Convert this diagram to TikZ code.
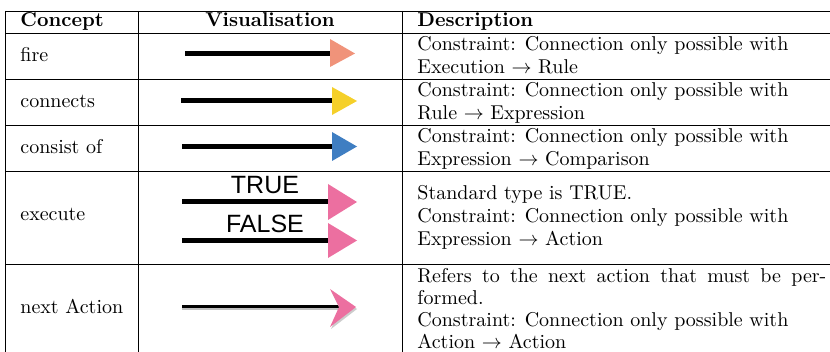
\documentclass[tikz,border=0pt]{standalone}
\usepackage{fontspec}
\newfontfamily\arialfont{Liberation Sans}
\definecolor{firecol}{HTML}{F0937A}
\definecolor{conncol}{HTML}{F5D02A}
\definecolor{conscol}{HTML}{3F7EC2}
\definecolor{execcol}{HTML}{EC6FA0}
\begin{document}
\begin{tikzpicture}[x=0.5pt,y=-0.5pt,
  txt/.style={anchor=base west,inner sep=0pt,font=\fontsize{10}{12}\selectfont},
  hdr/.style={anchor=base,inner sep=0pt,font=\fontsize{10}{12}\selectfont\bfseries},
  lbl/.style={anchor=center,inner sep=0pt,font=\arialfont\fontsize{12.5}{14}\selectfont},
  rule/.style={line width=0.4pt,black},
  shaft/.style={line width=2.5pt,black},
  thinshaft/.style={line width=1.5pt,black},
  shadow/.style={line width=1.5pt,black!25}]
\useasboundingbox (0,0) rectangle (830,352);
% table rules
\foreach \yy in {11,33,79,125,171,264} \draw[rule] (5,\yy) -- (830,\yy);
\foreach \xx in {5,138,402} \draw[rule] (\xx,11) -- (\xx,352);
% header
\node[hdr,anchor=base west] (hc) at (20,27) {Concept};
\node[hdr] (hv) at (270,27) {Visualisation};
\node[hdr,anchor=base west] (hd) at (417,27) {Description};
% column 1
\node[txt] (c1) at (20,62) {fire};
\node[txt] (c2) at (20,108) {connects};
\node[txt] (c3) at (20,154) {consist of};
\node[txt] (c4) at (20,221) {execute};
\node[txt] (c5) at (20,314) {next Action};
% descriptions
\node[txt] (d1a) at (417,51) {Constraint: Connection only possible with};
\node[txt] (d1b) at (417,74) {Execution $\rightarrow$ Rule};
\node[txt] (d2a) at (417,97) {Constraint: Connection only possible with};
\node[txt] (d2b) at (417,120) {Rule $\rightarrow$ Expression};
\node[txt] (d3a) at (417,143) {Constraint: Connection only possible with};
\node[txt] (d3b) at (417,166) {Expression $\rightarrow$ Comparison};
\node[txt] (d4a) at (417,200) {Standard type is TRUE.};
\node[txt] (d4b) at (417,223) {Constraint: Connection only possible with};
\node[txt] (d4c) at (417,246) {Expression $\rightarrow$ Action};
\node[txt] (d5a) at (417,283) {\makebox[204.5pt][s]{Refers to the next action that must be per-}};
\node[txt] (d5b) at (417,305) {formed.};
\node[txt] (d5c) at (417,327) {Constraint: Connection only possible with};
\node[txt] (d5d) at (417,349) {Action $\rightarrow$ Action};
% fire arrow
\coordinate (fs) at (185,53.5); \coordinate (fe) at (331,53.5);
\draw[shaft] (fs) -- (fe);
\fill[firecol] (330,39) -- (355,53.5) -- (330,67) -- cycle;
% connects arrow
\coordinate (cs) at (181,101); \coordinate (ce) at (333,101);
\draw[shaft] (cs) -- (ce);
\fill[conncol] (332,87) -- (357,101) -- (332,115) -- cycle;
% consist of arrow
\coordinate (ss) at (182,146.5); \coordinate (se) at (333,146.5);
\draw[shaft] (ss) -- (se);
\fill[conscol] (332,132) -- (357,146.5) -- (332,161) -- cycle;
% execute arrows
\node[lbl] (tl) at (265,185) {TRUE};
\coordinate (t1s) at (182,201.5); \coordinate (t1e) at (329,201.5);
\draw[shaft] (t1s) -- (t1e);
\fill[execcol] (328,184) -- (357,202) -- (328,220) -- cycle;
\node[lbl] (fl) at (265,224) {FALSE};
\coordinate (t2s) at (182,240.5); \coordinate (t2e) at (329,240.5);
\draw[shaft] (t2s) -- (t2e);
\fill[execcol] (328,223) -- (357,240.5) -- (328,258) -- cycle;
% next action arrow
\coordinate (ns) at (182,307); \coordinate (ne) at (340,307);
\draw[shadow] ([yshift=-1pt]ns) -- ([yshift=-1pt]ne);
\draw[thinshaft] (ns) -- (ne);
\fill[black!20] (331,291) -- (357,309) -- (331,329) -- (340,309) -- cycle;
\fill[execcol] (330,289) -- (356,307) -- (330,327) -- (339,307) -- cycle;
\end{tikzpicture}
\end{document}
